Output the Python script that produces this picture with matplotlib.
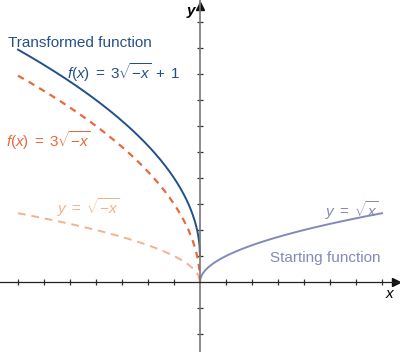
import numpy as np
import matplotlib.pyplot as plt

plt.rcParams['font.family'] = ['Liberation Sans', 'DejaVu Sans']
plt.rcParams['mathtext.fontset'] = 'custom'
plt.rcParams['mathtext.rm'] = 'Liberation Sans'
plt.rcParams['mathtext.it'] = 'Liberation Sans:italic'

# curve samples
x_left = np.linspace(-7, 0, 400)
x_right = np.linspace(0, 7, 400)
y_start = np.sqrt(x_right)            # y = sqrt(x)
y_reflect = np.sqrt(-x_left)          # y = sqrt(-x)
y_stretch = 3 * np.sqrt(-x_left)      # f(x) = 3 sqrt(-x)
y_final = 3 * np.sqrt(-x_left) + 1    # f(x) = 3 sqrt(-x) + 1

x_ticks = [t for t in range(-7, 8) if t != 0]
y_ticks = [t for t in range(-2, 11) if t != 0]

c_blue = '#24508a'
c_orange = '#e9683c'
c_light = '#f5b08e'
c_purple = '#8389b9'

fig = plt.figure(figsize=(4, 3.52), dpi=100)
ax = fig.add_axes([0, 0, 1, 1])
ax.set_xlim(-200 / 26, 200 / 26)
ax.set_ylim(-70 / 26, 282 / 26)

ax.plot(x_right, y_start, color=c_purple, lw=1.4)
ax.plot(x_left, y_reflect, color=c_light, lw=1.4, dashes=(4, 3))
ax.plot(x_left, y_stretch, color=c_orange, lw=1.6, dashes=(3, 2.5))
ax.plot(x_left, y_final, color=c_blue, lw=1.4)

for side in ['top', 'right']:
    ax.spines[side].set_visible(False)
ax.spines['left'].set_position(('data', 0))
ax.spines['bottom'].set_position(('data', 0))
ax.spines['left'].set_color('#777777')
ax.spines['left'].set_linewidth(1.2)
ax.spines['bottom'].set_color('#222222')
ax.spines['bottom'].set_linewidth(0.9)
ax.set_xticks(x_ticks)
ax.set_yticks(y_ticks)
ax.set_xticklabels([])
ax.set_yticklabels([])
ax.tick_params(direction='inout', length=5, width=0.9, colors='#333333')
ax.set_ylim(-70 / 26, 282 / 26)

ax.plot(7.55, 0, '>', color='#111111', ms=6, clip_on=False)
ax.plot(0, 10.6, '^', color='#111111', ms=6, clip_on=False)
ax.text(7.3, -0.45, 'x', fontsize=11, style='italic', ha='center', va='center')
ax.text(-0.35, 10.42, 'y', fontsize=11, style='italic', weight='bold', ha='center', va='center')

ax.text(-7.4, 9.2, 'Transformed function', color=c_blue, fontsize=11, va='center')
ax.text(-5.1, 8.05, r'$f(x)\;=\;3\sqrt{-x}\;+\;1$', color=c_blue, fontsize=11, va='center')
ax.text(-7.45, 5.45, r'$f(x)\;=\;3\sqrt{-x}$', color=c_orange, fontsize=11, va='center')
ax.text(-5.5, 2.85, r'$y\;=\;\sqrt{-x}$', color=c_light, fontsize=11, va='center')
ax.text(4.8, 2.75, r'$y\;=\;\sqrt{x}$', color=c_purple, fontsize=11, va='center')
ax.text(2.7, 0.92, 'Starting function', color=c_purple, fontsize=11, va='center')

fig.savefig('out.png', dpi=100)
